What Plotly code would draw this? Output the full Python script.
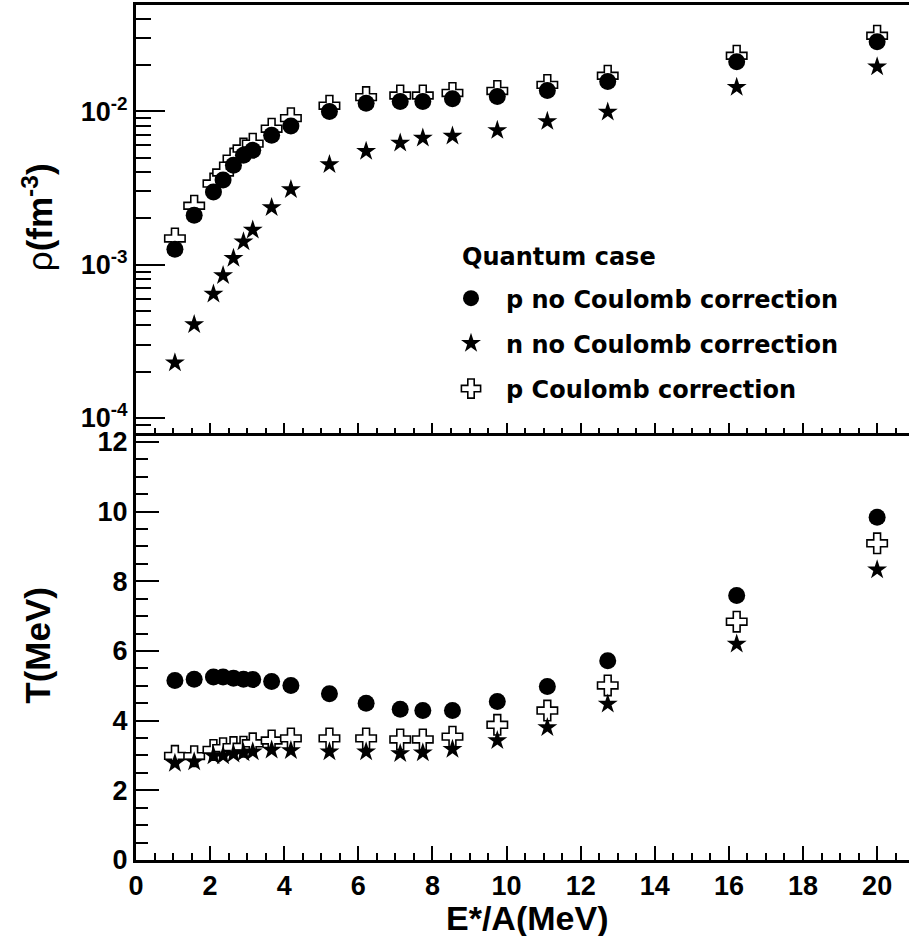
import plotly.graph_objects as go

# ---- data ----
E = [1.05, 1.57, 2.09, 2.35, 2.63, 2.90, 3.15, 3.66, 4.18, 5.22, 6.21, 7.13, 7.74,
     8.54, 9.75, 11.10, 12.73, 16.21, 20.00]

rho_p_noC = [1.26e-3, 2.10e-3, 2.98e-3, 3.56e-3, 4.45e-3, 5.18e-3, 5.57e-3, 6.99e-3,
             8.02e-3, 1.00e-2, 1.13e-2, 1.16e-2, 1.16e-2, 1.21e-2, 1.25e-2, 1.37e-2,
             1.57e-2, 2.11e-2, 2.85e-2]
rho_n_noC = [2.28e-4, 4.06e-4, 6.41e-4, 8.47e-4, 1.10e-3, 1.41e-3, 1.68e-3, 2.36e-3,
             3.09e-3, 4.50e-3, 5.49e-3, 6.22e-3, 6.70e-3, 6.91e-3, 7.52e-3, 8.61e-3,
             9.90e-3, 1.44e-2, 1.96e-2]
rho_p_C = [1.48e-3, 2.42e-3, 3.38e-3, 3.99e-3, 4.92e-3, 5.72e-3, 6.16e-3, 7.71e-3,
           9.04e-3, 1.09e-2, 1.24e-2, 1.27e-2, 1.27e-2, 1.32e-2, 1.36e-2, 1.49e-2,
           1.71e-2, 2.31e-2, 3.12e-2]

T_p_noC = [5.15, 5.19, 5.25, 5.25, 5.22, 5.19, 5.18, 5.12, 5.01, 4.77, 4.50, 4.33, 4.29,
           4.29, 4.55, 4.98, 5.72, 7.59, 9.84]
T_n_noC = [2.78, 2.82, 2.99, 2.99, 3.04, 3.08, 3.11, 3.16, 3.14, 3.11, 3.11, 3.06, 3.08,
           3.18, 3.43, 3.80, 4.48, 6.20, 8.33]
T_p_C = [2.99, 2.98, 3.16, 3.21, 3.24, 3.25, 3.35, 3.43, 3.49, 3.49, 3.49, 3.46, 3.46,
         3.54, 3.88, 4.29, 5.01, 6.84, 9.09]

legend_title = "Quantum case"
names = ["p no Coulomb correction", "n no Coulomb correction", "p Coulomb correction"]
x_major = [0, 2, 4, 6, 8, 10, 12, 14, 16, 18, 20]
x_minor = [v / 2 for v in range(0, 42) if v % 4 != 0]
T_major = [0, 2, 4, 6, 8, 10, 12]
T_minor = [v / 2 for v in range(0, 25) if v % 4 != 0]
rho_major = [1e-4, 1e-3, 1e-2]
rho_major_text = ["10<sup>-4</sup>", "10<sup>-3</sup>", "10<sup>-2</sup>"]
rho_minor = [9e-5] + [k * 1e-4 for k in range(2, 10)] + [k * 1e-3 for k in range(2, 10)] \
    + [k * 1e-2 for k in range(2, 6)]

FONT = "Liberation Sans"
LFONT = "DejaVu Sans"
circle = dict(symbol="circle", size=17, color="black", line=dict(width=0))
star = dict(symbol="star", size=15, color="black", line=dict(width=0))
cross = dict(symbol="cross", size=17, color="white", line=dict(width=1.6, color="black"))

fig = go.Figure()
# draw order: crosses below, circles, stars on top
fig.add_trace(go.Scatter(x=E, y=rho_p_C, mode="markers", marker=cross,
                         name="<b>%s</b>" % names[2],
                         xaxis="x2", yaxis="y2", legendrank=3, legendgroup="c"))
fig.add_trace(go.Scatter(x=E, y=T_p_C, mode="markers", marker=cross, name=names[2],
                         showlegend=False))
fig.add_trace(go.Scatter(x=E, y=rho_p_noC, mode="markers", marker=circle,
                         name="<b>%s</b>" % names[0],
                         xaxis="x2", yaxis="y2", legendrank=1, legendgroup="a"))
fig.add_trace(go.Scatter(x=E, y=T_p_noC, mode="markers", marker=circle, name=names[0],
                         showlegend=False))
fig.add_trace(go.Scatter(x=E, y=rho_n_noC, mode="markers", marker=star,
                         name="<b>%s</b>" % names[1],
                         xaxis="x2", yaxis="y2", legendrank=2, legendgroup="b"))
fig.add_trace(go.Scatter(x=E, y=T_n_noC, mode="markers", marker=star, name=names[1],
                         showlegend=False))

split = 0.5
common = dict(showgrid=False, zeroline=False, showline=True, linecolor="black",
              linewidth=3, ticks="inside", tickcolor="black", tickwidth=2)
tickf = dict(family=FONT, size=27, color="black", weight="bold")

fig.update_layout(
    width=909, height=936,
    margin=dict(l=136, r=0, t=2, b=76),
    paper_bgcolor="white", plot_bgcolor="white",
    font=dict(family=FONT, color="black"),
    xaxis=dict(domain=[0, 1], anchor="y", range=[0, 20.86], tickvals=x_major,
               ticklen=14, mirror=False, tickfont=tickf,
               minor=dict(tickvals=x_minor, ticks="inside", ticklen=7,
                          tickcolor="black", tickwidth=1.5), **common),
    xaxis2=dict(domain=[0, 1], anchor="y2", range=[0, 20.86], matches="x",
                tickvals=x_major, ticklen=10, mirror=True, showticklabels=False,
                minor=dict(tickvals=x_minor, ticks="inside", ticklen=5,
                           tickcolor="black", tickwidth=1.5), **common),
    yaxis=dict(domain=[0, split], anchor="x", range=[0, 12.27], tickvals=T_major,
               ticklen=23, tickfont=tickf,
               minor=dict(tickvals=T_minor, ticks="inside", ticklen=12,
                          tickcolor="black", tickwidth=1.5), **common),
    yaxis2=dict(domain=[split, 1], anchor="x2", type="log", range=[-4.097, -1.305],
                tickvals=rho_major, ticktext=rho_major_text, ticklen=29,
                tickfont=tickf,
                minor=dict(tickvals=rho_minor, ticks="inside", ticklen=15,
                           tickcolor="black", tickwidth=1.5), **common),
    legend=dict(x=(436 - 136) / 773, y=(860 - 274) / 858, xanchor="left", yanchor="top",
                bgcolor="rgba(0,0,0,0)", borderwidth=0,
                font=dict(family=LFONT, size=24, color="black"),
                traceorder="grouped", tracegroupgap=11, itemwidth=60),
    annotations=[
        dict(text="<b>%s</b>" % legend_title, xref="paper", yref="paper",
             x=(460 - 136) / 773, y=(860 - 255) / 858, showarrow=False,
             font=dict(family=LFONT, size=24), xanchor="left", yanchor="middle"),
        dict(text="ρ<b>(fm<sup>-3</sup>)</b>", xref="paper", yref="paper",
             x=(38 - 136) / 773, y=(860 - 215) / 858, textangle=-90, showarrow=False,
             font=dict(family=FONT, size=35), xanchor="center", yanchor="middle"),
        dict(text="<b>T(MeV)</b>", xref="paper", yref="paper",
             x=(38 - 136) / 773, y=(860 - 645) / 858, textangle=-90, showarrow=False,
             font=dict(family=FONT, size=35), xanchor="center", yanchor="middle"),
        dict(text="<b>E*/A(MeV)</b>", xref="paper", yref="paper",
             x=(527 - 136) / 773, y=(860 - 918) / 858, showarrow=False,
             font=dict(family=FONT, size=34), xanchor="center", yanchor="middle"),
    ],
)

fig.write_html("out.html", config={"displayModeBar": False},
               post_script="document.body.style.margin='0px';document.body.style.overflow='hidden';")
